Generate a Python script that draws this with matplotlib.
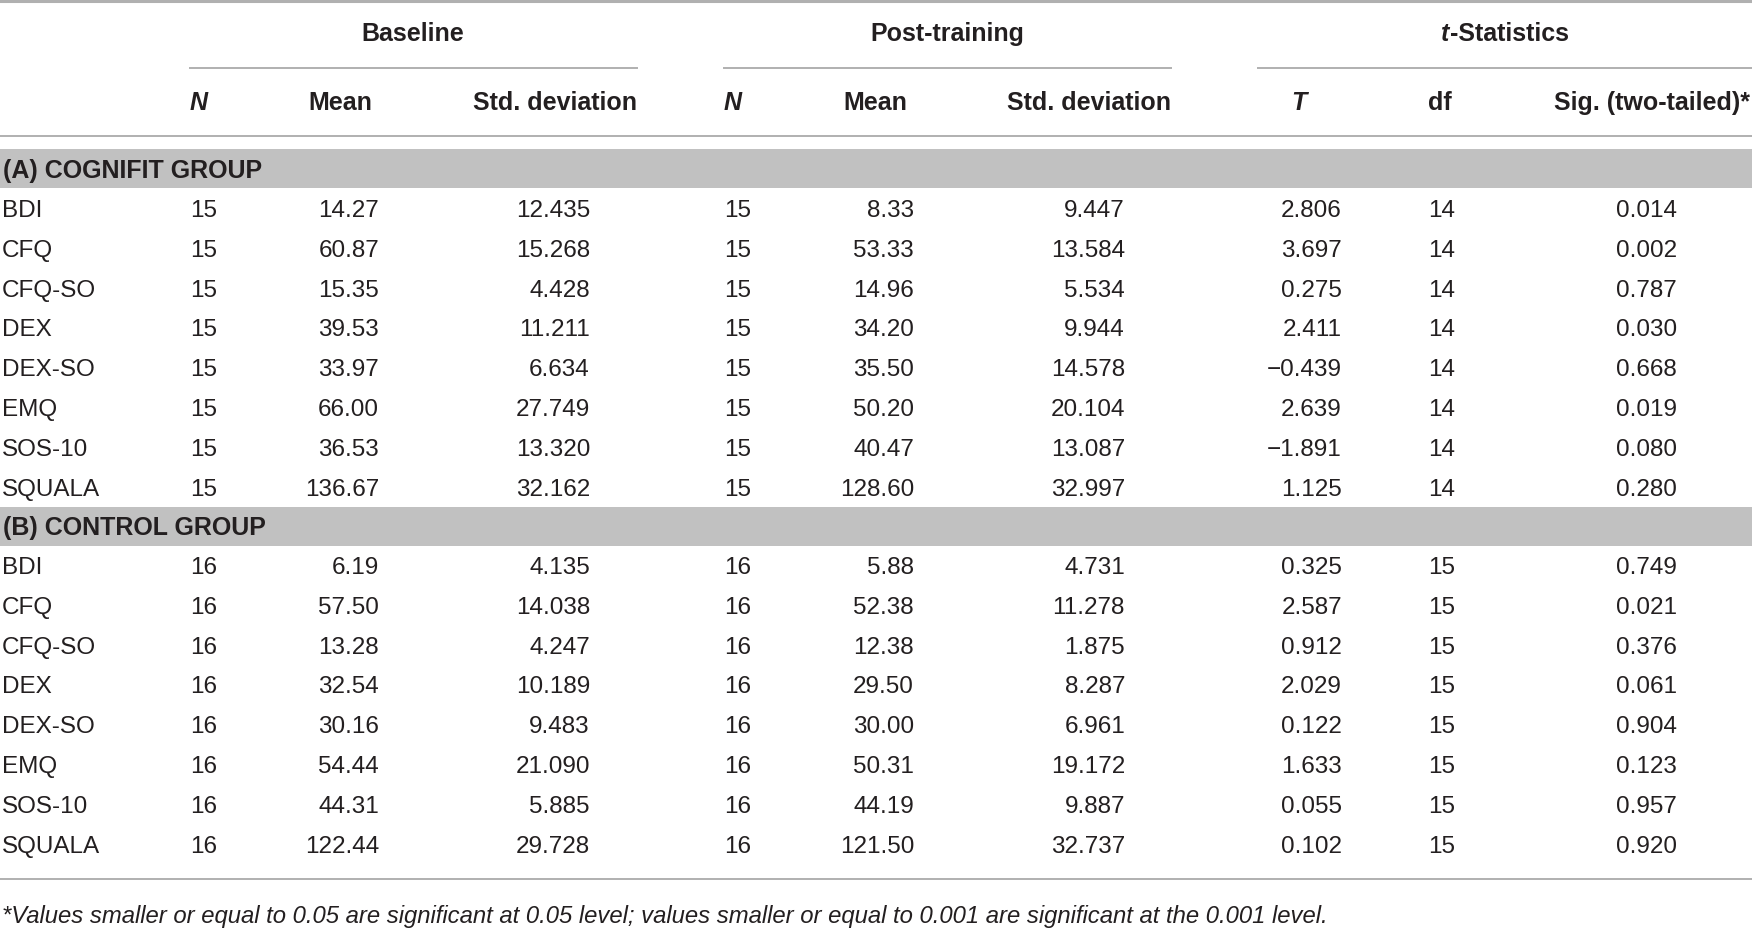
import matplotlib
matplotlib.use("Agg")
import matplotlib.pyplot as plt
from matplotlib.patches import Rectangle

plt.rcParams['font.family'] = ['Liberation Sans', 'DejaVu Sans']

# table data
measures = ["BDI", "CFQ", "CFQ-SO", "DEX", "DEX-SO", "EMQ", "SOS-10", "SQUALA"]
groups = ["(A) COGNIFIT GROUP", "(B) CONTROL GROUP"]

n_a = ["15"] * 8
base_mean_a = ["14.27", "60.87", "15.35", "39.53", "33.97", "66.00", "36.53", "136.67"]
base_sd_a = ["12.435", "15.268", "4.428", "11.211", "6.634", "27.749", "13.320", "32.162"]
post_mean_a = ["8.33", "53.33", "14.96", "34.20", "35.50", "50.20", "40.47", "128.60"]
post_sd_a = ["9.447", "13.584", "5.534", "9.944", "14.578", "20.104", "13.087", "32.997"]
t_a = ["2.806", "3.697", "0.275", "2.411", "\u22120.439", "2.639", "\u22121.891", "1.125"]
df_a = ["14"] * 8
sig_a = ["0.014", "0.002", "0.787", "0.030", "0.668", "0.019", "0.080", "0.280"]

n_b = ["16"] * 8
base_mean_b = ["6.19", "57.50", "13.28", "32.54", "30.16", "54.44", "44.31", "122.44"]
base_sd_b = ["4.135", "14.038", "4.247", "10.189", "9.483", "21.090", "5.885", "29.728"]
post_mean_b = ["5.88", "52.38", "12.38", "29.50", "30.00", "50.31", "44.19", "121.50"]
post_sd_b = ["4.731", "11.278", "1.875", "8.287", "6.961", "19.172", "9.887", "32.737"]
t_b = ["0.325", "2.587", "0.912", "2.029", "0.122", "1.633", "0.055", "0.102"]
df_b = ["15"] * 8
sig_b = ["0.749", "0.021", "0.376", "0.061", "0.904", "0.123", "0.957", "0.920"]

footnote = ("*Values smaller or equal to 0.05 are significant at 0.05 level; "
            "values smaller or equal to 0.001 are significant at the 0.001 level.")

W, H = 1752, 929
fig = plt.figure(figsize=(W / 100, H / 100), dpi=100)
ax = fig.add_axes([0, 0, 1, 1])
ax.set_xlim(0, W)
ax.set_ylim(H, 0)
ax.axis("off")

txt = "#231f20"
rule = "#b0b0b0"
band = "#c1c1c1"
fs = 17.5
hfs = 18.0

# columns: (x, alignment)
cols = [(190, "left"), (379, "right"), (590, "right"),
        (724, "left"), (914, "right"), (1125, "right"),
        (1342, "right"), (1428, "left"), (1677, "right")]

# rules
ax.plot([0, W], [1.5, 1.5], color=rule, lw=2.2)
for x0, x1 in [(190, 637), (724, 1171), (1258, W)]:
    ax.plot([x0, x1], [69, 69], color=rule, lw=1.4)
ax.plot([0, W], [137, 137], color=rule, lw=1.4)
ax.plot([0, W], [880, 880], color=rule, lw=1.4)

# group headers
for label, xc in [("Baseline", 413), ("Post-training", 947)]:
    ax.text(xc, 34, label, ha="center", va="center", fontsize=hfs,
            fontweight="bold", color=txt)

# "t-Statistics" with italic t, centred over its rule
rend = fig.canvas.get_renderer()
t_it = ax.text(0, 34, "t", ha="right", va="center", fontsize=hfs,
               fontweight="bold", style="italic", color=txt)
t_rest = ax.text(0, 34, "-Statistics", ha="left", va="center", fontsize=hfs,
                 fontweight="bold", color=txt)
w1 = t_it.get_window_extent(rend).width
w2 = t_rest.get_window_extent(rend).width
split = 1505 - (w1 + w2) / 2 + w1
t_it.set_x(split)
t_rest.set_x(split)

# sub headers
subs = [("N", 190, "left", True), ("Mean", 340, "center", False),
        ("Std. deviation", 637, "right", False),
        ("N", 724, "left", True), ("Mean", 875, "center", False),
        ("Std. deviation", 1171, "right", False),
        ("T", 1299, "center", True), ("df", 1428, "left", False),
        ("Sig. (two-tailed)*", 1750, "right", False)]
for label, x, ha, it in subs:
    ax.text(x, 103, label, ha=ha, va="center", fontsize=hfs, fontweight="bold",
            style="italic" if it else "normal", color=txt)

blocks = [
    (groups[0], 150, 211, [n_a, base_mean_a, base_sd_a, n_a, post_mean_a, post_sd_a, t_a, df_a, sig_a]),
    (groups[1], 508, 568, [n_b, base_mean_b, base_sd_b, n_b, post_mean_b, post_sd_b, t_b, df_b, sig_b]),
]
step = 39.8
for gname, btop, y0, colvals in blocks:
    ax.add_patch(Rectangle((0, btop), W, 38.5, facecolor=band, edgecolor="none"))
    ax.text(3, btop + 20.5, gname, ha="left", va="center", fontsize=hfs,
            fontweight="bold", color=txt)
    for i, m in enumerate(measures):
        y = y0 + i * step
        ax.text(2, y, m, ha="left", va="center", fontsize=fs, color=txt)
        for (x, ha), vals in zip(cols, colvals):
            ax.text(x, y, vals[i], ha=ha, va="center", fontsize=fs, color=txt)

ax.text(2, 917, footnote, ha="left", va="center", fontsize=17.2,
        style="italic", color=txt)

fig.savefig("out.png", dpi=100)
